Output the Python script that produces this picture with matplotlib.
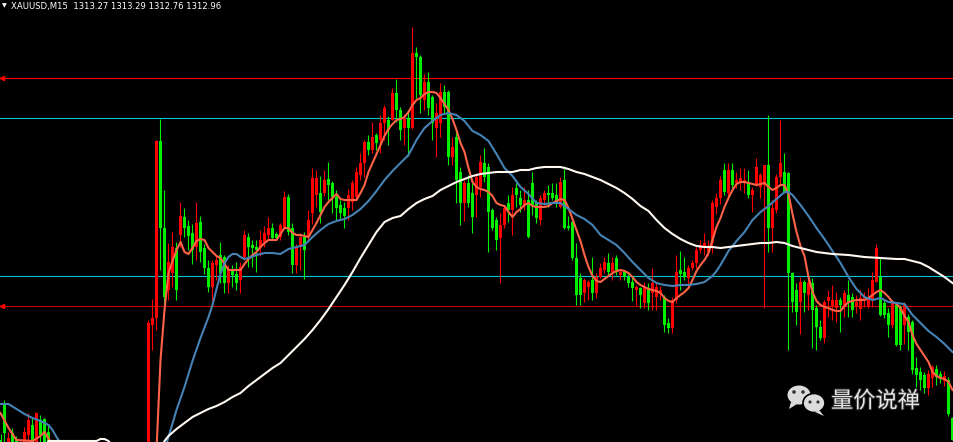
import numpy as np
import matplotlib.pyplot as plt
import matplotlib.patches as mpatches
import matplotlib.patheffects as pe

# XAUUSD M15 candles. bars 0-12 sit at the left edge, bars 13-36 are below the
# visible price range, bars 37-238 form the main part of the chart
left_open  = [1312.0, 1313.75, 1311.6, 1312.35, 1312.0, 1311.5, 1311.6, 1312.25, 1312.75, 1311.7, 1313.0, 1313.05, 1312.4]
left_high  = [1312.3, 1314.0, 1312.4, 1312.6, 1312.2, 1312.0, 1312.65, 1313.35, 1313.1, 1313.4, 1313.25, 1313.1, 1312.75]
left_low   = [1311.0, 1311.6, 1311.3, 1311.2, 1311.0, 1311.2, 1311.4, 1311.8, 1311.5, 1311.5, 1311.9, 1311.5, 1311.5]
left_close = [1311.5, 1312.35, 1312.1, 1311.5, 1311.5, 1311.9, 1312.4, 1313.0, 1311.8, 1313.35, 1312.25, 1311.8, 1311.7]

main_open = [
    1310.5, 1317.75, 1318.1, 1326.95, 1322.6, 1319.5, 1320.35, 1321.6, 1322.25, 1323.15,
    1322.7, 1322.35, 1321.65, 1322.9, 1321.6, 1320.6, 1319.65, 1320.75, 1321.25, 1321.15,
    1319.85, 1320.5, 1320.3, 1320.0, 1321.15, 1322.15, 1321.75, 1321.65, 1321.65, 1321.9,
    1322.25, 1322.6, 1322.3, 1322.15, 1322.65, 1324.15, 1322.6, 1320.75, 1321.65, 1322.15,
    1322.15, 1323.35, 1324.25, 1324.35, 1324.35, 1325.05, 1324.85, 1324.15, 1323.75, 1323.6,
    1323.6, 1323.9, 1324.15, 1325.25, 1325.85, 1326.9, 1326.5, 1327.25, 1327.0, 1327.85,
    1328.0, 1328.0, 1329.35, 1328.5, 1327.6, 1328.1, 1327.6, 1331.35, 1331.15, 1329.0,
    1329.9, 1329.15, 1327.6, 1327.85, 1329.4, 1329.4, 1326.15, 1327.15, 1325.4, 1323.85,
    1324.85, 1324.35, 1324.25, 1324.65, 1325.85, 1325.65, 1323.5, 1323.0, 1322.1, 1322.75,
    1323.85, 1323.5, 1324.6, 1324.1, 1323.75, 1324.0, 1324.85, 1323.85, 1323.0, 1324.0,
    1324.35, 1324.35, 1324.25, 1323.65, 1325.0, 1322.7, 1322.9, 1321.1, 1320.1, 1319.35,
    1319.65, 1320.0, 1319.35, 1320.15, 1320.5, 1320.85, 1320.4, 1321.1, 1320.25, 1320.4,
    1320.15, 1319.9, 1319.5, 1319.6, 1318.85, 1319.6, 1319.35, 1319.15, 1319.3, 1319.15,
    1317.85, 1317.6, 1319.0, 1320.5, 1320.4, 1320.1, 1320.6, 1320.85, 1321.5, 1321.6,
    1321.4, 1321.85, 1323.65, 1324.1, 1325.5, 1324.35, 1325.5, 1324.85, 1324.9, 1324.85,
    1324.9, 1324.25, 1324.75, 1324.65, 1324.75, 1325.75, 1322.6, 1323.5, 1325.15, 1325.4,
    1325.35, 1320.35, 1319.5, 1318.9, 1319.9, 1319.25, 1319.85, 1318.6, 1317.65, 1317.1,
    1318.95, 1318.65, 1318.6, 1319.0, 1318.65, 1319.25, 1319.15, 1318.65, 1318.55, 1318.95,
    1318.7, 1319.0, 1319.9, 1320.15, 1318.85, 1318.35, 1317.75, 1318.75, 1318.65, 1317.75,
    1318.15, 1317.9, 1315.6, 1315.4, 1315.25, 1314.6, 1315.1, 1315.55, 1315.3, 1314.95,
    1315.0, 1313.1]
main_high = [
    1318.0, 1319.05, 1327.0, 1328.05, 1324.5, 1321.85, 1322.4, 1321.9, 1323.9, 1323.6,
    1323.0, 1322.8, 1323.9, 1323.2, 1321.8, 1321.0, 1321.0, 1321.2, 1321.9, 1321.25,
    1320.75, 1320.75, 1320.9, 1320.9, 1322.5, 1322.35, 1322.0, 1322.0, 1322.5, 1322.7,
    1323.15, 1322.85, 1322.4, 1322.85, 1324.45, 1324.3, 1322.85, 1321.8, 1322.35, 1322.4,
    1323.5, 1325.6, 1325.5, 1325.2, 1325.5, 1325.9, 1324.95, 1324.5, 1324.0, 1323.9,
    1324.55, 1325.0, 1325.65, 1326.35, 1327.0, 1327.25, 1327.9, 1327.35, 1328.25, 1328.75,
    1328.2, 1329.6, 1330.05, 1328.65, 1328.3, 1328.5, 1332.65, 1331.65, 1331.25, 1330.3,
    1330.4, 1329.25, 1328.85, 1329.85, 1329.75, 1329.5, 1327.15, 1327.5, 1325.65, 1325.0,
    1325.25, 1324.85, 1325.35, 1326.25, 1326.6, 1325.85, 1323.6, 1323.15, 1323.35, 1323.75,
    1324.25, 1324.65, 1324.85, 1324.5, 1324.65, 1324.5, 1325.4, 1324.0, 1324.25, 1324.5,
    1324.75, 1324.85, 1324.85, 1325.15, 1325.7, 1323.2, 1323.05, 1321.85, 1320.35, 1320.1,
    1320.0, 1321.15, 1320.35, 1320.85, 1321.15, 1321.35, 1321.15, 1321.25, 1320.5, 1320.4,
    1320.4, 1320.15, 1319.75, 1319.65, 1319.9, 1319.85, 1320.6, 1319.9, 1319.7, 1319.25,
    1318.1, 1319.15, 1321.25, 1321.45, 1321.15, 1320.75, 1321.0, 1321.65, 1322.0, 1322.35,
    1322.0, 1324.0, 1324.35, 1325.2, 1325.85, 1325.85, 1325.85, 1325.4, 1325.6, 1325.6,
    1325.5, 1324.65, 1326.1, 1325.35, 1325.75, 1328.25, 1324.0, 1325.3, 1328.0, 1326.35,
    1325.4, 1320.4, 1319.85, 1320.15, 1320.0, 1320.1, 1320.1, 1318.75, 1318.0, 1319.0,
    1319.5, 1319.75, 1319.4, 1319.15, 1319.5, 1320.0, 1319.35, 1319.25, 1319.5, 1319.4,
    1319.6, 1320.4, 1321.8, 1321.1, 1319.0, 1318.6, 1319.0, 1318.85, 1318.75, 1318.9,
    1318.3, 1318.0, 1316.15, 1315.65, 1315.4, 1315.5, 1315.75, 1315.75, 1315.45, 1315.45,
    1315.15, 1313.15]
main_low = [
    1310.3, 1316.5, 1317.5, 1320.5, 1318.4, 1319.0, 1319.65, 1319.0, 1321.65, 1322.15,
    1321.5, 1320.8, 1321.0, 1320.9, 1320.3, 1319.4, 1318.9, 1320.0, 1319.85, 1319.35,
    1319.35, 1319.65, 1319.5, 1319.35, 1321.0, 1320.65, 1320.65, 1320.4, 1321.2, 1321.65,
    1322.0, 1322.0, 1322.0, 1322.0, 1322.6, 1322.25, 1320.35, 1320.35, 1320.5, 1320.05,
    1322.0, 1322.8, 1323.65, 1322.85, 1324.2, 1324.0, 1323.35, 1323.0, 1323.0, 1322.6,
    1323.0, 1323.5, 1324.0, 1325.0, 1325.15, 1326.25, 1326.35, 1326.5, 1326.35, 1327.0,
    1326.75, 1328.0, 1327.9, 1327.0, 1326.75, 1326.2, 1327.55, 1329.1, 1328.35, 1328.5,
    1328.25, 1327.0, 1326.15, 1327.15, 1328.35, 1325.75, 1325.75, 1323.85, 1322.75, 1322.95,
    1323.65, 1322.35, 1323.15, 1324.15, 1324.9, 1321.4, 1322.5, 1321.5, 1319.85, 1322.6,
    1322.9, 1322.25, 1323.65, 1323.4, 1323.5, 1322.1, 1323.25, 1322.85, 1322.75, 1323.75,
    1323.65, 1324.0, 1323.65, 1323.6, 1322.55, 1322.5, 1321.0, 1318.75, 1318.75, 1318.9,
    1319.0, 1319.0, 1319.1, 1320.1, 1320.35, 1320.25, 1320.0, 1320.25, 1320.0, 1320.0,
    1319.65, 1318.95, 1318.75, 1318.6, 1318.6, 1318.5, 1318.5, 1318.5, 1319.0, 1317.4,
    1317.35, 1317.35, 1318.85, 1319.5, 1320.0, 1319.75, 1320.5, 1320.6, 1321.35, 1321.25,
    1321.2, 1321.35, 1323.3, 1323.8, 1324.25, 1324.2, 1324.5, 1324.6, 1324.5, 1324.35,
    1324.1, 1323.4, 1324.7, 1324.1, 1318.6, 1321.4, 1321.4, 1323.35, 1324.75, 1324.35,
    1316.5, 1318.4, 1317.75, 1317.3, 1318.4, 1318.5, 1316.6, 1316.5, 1317.0, 1316.85,
    1318.15, 1318.0, 1317.9, 1317.4, 1318.15, 1318.15, 1318.15, 1318.35, 1318.0, 1318.65,
    1318.6, 1318.65, 1319.9, 1318.2, 1318.1, 1317.15, 1317.6, 1316.7, 1316.5, 1316.8,
    1316.5, 1315.3, 1314.65, 1314.5, 1314.35, 1314.25, 1314.65, 1314.75, 1314.85, 1314.7,
    1313.2, 1312.0]
main_close = [
    1317.85, 1318.1, 1326.95, 1322.6, 1319.15, 1320.9, 1321.65, 1319.5, 1323.2, 1322.6,
    1322.2, 1321.5, 1322.85, 1321.4, 1320.6, 1319.65, 1320.85, 1321.0, 1320.35, 1319.85,
    1320.5, 1320.25, 1319.85, 1320.65, 1322.25, 1321.65, 1321.6, 1321.5, 1322.0, 1322.35,
    1322.6, 1322.1, 1322.1, 1322.75, 1324.15, 1322.4, 1320.75, 1321.65, 1322.15, 1321.5,
    1323.0, 1325.1, 1325.1, 1323.4, 1325.0, 1324.75, 1324.15, 1323.6, 1323.35, 1323.2,
    1324.25, 1324.85, 1325.4, 1325.85, 1326.9, 1326.5, 1327.15, 1326.85, 1327.85, 1328.6,
    1327.5, 1329.35, 1328.5, 1327.5, 1328.1, 1327.6, 1331.35, 1331.15, 1329.25, 1329.9,
    1328.6, 1327.85, 1328.35, 1329.4, 1328.65, 1326.15, 1326.65, 1325.0, 1323.85, 1324.85,
    1323.85, 1323.15, 1325.15, 1325.9, 1325.15, 1323.4, 1322.6, 1322.0, 1322.75, 1323.6,
    1323.5, 1324.25, 1324.25, 1323.75, 1324.0, 1322.15, 1323.75, 1323.1, 1324.1, 1324.35,
    1324.25, 1324.1, 1323.85, 1324.9, 1322.6, 1322.6, 1321.1, 1319.25, 1319.25, 1320.0,
    1319.9, 1319.35, 1320.15, 1320.6, 1320.9, 1320.4, 1320.85, 1320.4, 1320.4, 1320.15,
    1319.85, 1319.6, 1319.65, 1319.25, 1319.65, 1318.85, 1319.85, 1319.65, 1319.5, 1317.75,
    1317.6, 1319.0, 1320.4, 1320.3, 1320.15, 1320.6, 1320.85, 1321.5, 1321.75, 1321.85,
    1321.7, 1323.85, 1324.1, 1325.0, 1324.4, 1325.5, 1324.75, 1325.0, 1325.1, 1325.0,
    1324.25, 1324.5, 1325.65, 1325.25, 1325.75, 1322.6, 1323.6, 1325.15, 1325.85, 1324.4,
    1320.35, 1318.9, 1318.4, 1319.9, 1319.35, 1319.85, 1318.5, 1317.65, 1317.1, 1318.9,
    1319.15, 1319.0, 1319.0, 1318.75, 1319.35, 1318.9, 1318.5, 1318.9, 1319.1, 1319.15,
    1319.0, 1320.0, 1321.6, 1318.25, 1318.25, 1317.75, 1318.85, 1316.75, 1316.75, 1318.75,
    1317.4, 1315.5, 1315.25, 1315.0, 1314.6, 1315.3, 1315.65, 1315.15, 1315.05, 1315.2,
    1313.3, 1312.0]

# moving averages (bar index, price); nan breaks the line where it leaves the view
fast_ma_left_bars = [0, 2, 4, 8, 10, 11, 13]
fast_ma_left = [1313.35, 1312.6, 1312.0, 1311.95, 1312.2, 1312.4, 1311.75]
fast_ma_main = [  # bars 39..238
    1311.5, 1316.0, 1318.5, 1320.35, 1320.95, 1321.5, 1321.9, 1321.4, 1321.3, 1321.6,
    1321.95, 1322.05, 1322.0, 1321.6, 1321.4, 1321.2, 1321.1, 1320.8, 1320.5, 1320.5,
    1320.5, 1320.5, 1320.8, 1321.05, 1321.25, 1321.4, 1321.65, 1321.85, 1322.0, 1322.0,
    1322.0, 1322.3, 1322.6, 1322.6, 1322.35, 1322.25, 1322.25, 1322.2, 1322.15, 1322.5,
    1322.85, 1323.25, 1323.65, 1323.9, 1324.1, 1324.3, 1324.05, 1324.0, 1324.0, 1324.0,
    1324.0, 1324.35, 1324.75, 1325.4, 1325.85, 1326.3, 1326.75, 1327.2, 1327.55, 1327.8,
    1328.0, 1328.05, 1328.15, 1328.4, 1328.75, 1329.0, 1329.1, 1329.3, 1329.4, 1329.4,
    1329.35, 1329.1, 1328.8, 1328.5, 1328.05, 1327.5, 1326.85, 1326.4, 1325.6, 1324.9,
    1324.65, 1324.55, 1324.5, 1324.4, 1324.2, 1323.85, 1323.75, 1323.7, 1323.4, 1323.15,
    1323.4, 1323.55, 1323.75, 1323.85, 1323.7, 1323.65, 1323.65, 1323.65, 1323.7, 1323.85,
    1323.95, 1324.05, 1324.0, 1323.6, 1323.05, 1322.5, 1321.95, 1321.25, 1320.65, 1320.2,
    1319.95, 1319.9, 1320.05, 1320.2, 1320.35, 1320.45, 1320.5, 1320.45, 1320.35, 1320.15,
    1319.9, 1319.75, 1319.65, 1319.55, 1319.5, 1319.45, 1319.35, 1319.1, 1318.95, 1318.9,
    1319.1, 1319.25, 1319.4, 1319.6, 1320.0, 1320.45, 1320.75, 1321.0, 1321.35, 1322.0,
    1322.65, 1323.1, 1323.65, 1324.1, 1324.5, 1324.8, 1324.9, 1324.9, 1324.85, 1324.8,
    1324.75, 1324.8, 1324.85, 1324.65, 1324.5, 1324.6, 1324.75, 1324.75, 1324.3, 1323.3,
    1322.4, 1321.7, 1321.2, 1320.15, 1319.4, 1318.95, 1318.75, 1318.65, 1318.6, 1318.5,
    1318.45, 1318.45, 1318.7, 1318.9, 1318.95, 1319.0, 1319.0, 1319.0, 1319.1, 1319.25,
    1319.4, 1319.5, 1319.35, 1319.15, 1318.9, 1318.8, 1318.6, 1318.2, 1317.9, 1317.25,
    1316.8, 1316.5, 1316.2, 1315.9, 1315.4, 1315.2, 1315.1, 1315.05, 1314.9, 1314.5]

mid_ma_bars = [0, 2, 4, 6, 8, 10, 12, 13, 14, 15, 16, 30,
               41, 42, 44, 46, 48, 50, 52, 53, 54, 55, 56, 57, 58, 59, 60, 61, 62, 64, 66, 68,
               70, 72, 74, 76, 77, 78, 80, 82, 84, 86, 88, 90, 92, 94, 96, 98, 100, 102, 104,
               106, 108, 110, 112, 114, 116, 118, 120, 122, 124, 126, 128, 130, 132, 134, 136,
               138, 140, 142, 144, 146, 148, 150, 152, 154, 156, 158, 160, 162, 164, 166, 168,
               170, 172, 174, 176, 178, 179, 180, 182, 184, 186, 188, 190, 192, 194, 196, 197,
               198, 200, 202, 204, 206, 208, 210, 212, 214, 216, 218, 220, 222, 224, 226, 228,
               230, 232, 234, 236, 238]
mid_ma = [1313.8, 1313.8, 1313.55, 1313.3, 1313.1, 1312.95, 1312.75, 1312.5, 1312.15, 1311.85, 1311.5, np.nan,
          1311.5, 1312.15, 1313.5, 1314.65, 1315.95, 1317.1, 1318.15, 1318.75, 1319.55, 1320.3, 1320.85,
          1321.15, 1321.3, 1321.3, 1321.15, 1321.05, 1321.1, 1321.25, 1321.35, 1321.35,
          1321.3, 1321.55, 1321.65, 1321.75, 1321.95, 1322.15, 1322.5, 1322.8, 1322.95, 1323.05,
          1323.25, 1323.55, 1323.95, 1324.45, 1325.0, 1325.45, 1325.85, 1326.25, 1327.0,
          1327.6, 1327.95, 1328.25, 1328.35, 1328.25, 1327.95, 1327.45, 1327.25, 1326.95, 1326.3,
          1325.6, 1325.2, 1324.65, 1324.3, 1323.85, 1323.8, 1323.85, 1323.85, 1323.55, 1323.25,
          1323.05, 1322.75, 1322.25, 1322.0, 1321.75, 1321.35, 1320.9, 1320.5, 1320.1, 1319.85,
          1319.75, 1319.7, 1319.75, 1319.75, 1319.8, 1319.9, 1320.2, 1320.45, 1320.75, 1321.45,
          1321.95, 1322.4, 1323.0, 1323.4, 1323.7, 1324.05, 1324.4, 1324.4, 1324.25, 1323.75,
          1323.2, 1322.6, 1322.05, 1321.45, 1320.85, 1320.15, 1319.55, 1319.15, 1319.0, 1319.1,
          1318.9, 1318.85, 1318.8, 1318.25, 1317.85, 1317.45, 1317.15, 1316.8, 1316.4]

slow_ma_bars = [11, 12, 14, 16, 18, 20, 22, 24, 25, 26, 27, 28, 34,
                40, 41, 42, 44, 46, 48, 50, 52, 54, 56, 58, 60, 62, 64, 66, 68, 70, 72, 74, 76,
                78, 80, 82, 84, 86, 88, 90, 92, 94, 96, 98, 100, 102, 104, 106, 108, 110, 112,
                114, 116, 118, 120, 122, 124, 126, 128, 130, 132, 134, 136, 138, 140, 142, 144,
                146, 148, 150, 152, 154, 156, 158, 160, 162, 164, 166, 168, 170, 172, 174, 176,
                178, 180, 182, 184, 186, 188, 190, 192, 194, 196, 198, 200, 202, 204, 206, 208,
                212, 216, 220, 224, 226, 228, 230, 232, 234, 236, 238]
slow_ma = [1311.7, 1311.95, 1311.95, 1311.95, 1311.95, 1311.95, 1311.95, 1311.95, 1312.05, 1312.05,
           1311.95, 1311.7, np.nan,
           1311.5, 1311.95, 1312.2, 1312.55, 1312.85, 1313.15, 1313.35, 1313.55, 1313.7, 1313.9,
           1314.15, 1314.35, 1314.7, 1315.0, 1315.3, 1315.6, 1315.85, 1316.25, 1316.65, 1317.05,
           1317.5, 1318.0, 1318.55, 1319.15, 1319.75, 1320.4, 1321.1, 1321.75, 1322.4, 1322.9,
           1323.1, 1323.2, 1323.55, 1323.85, 1324.05, 1324.2, 1324.5, 1324.7, 1324.9, 1325.05,
           1325.2, 1325.3, 1325.35, 1325.4, 1325.4, 1325.4, 1325.5, 1325.5, 1325.6, 1325.65,
           1325.65, 1325.65, 1325.55, 1325.4, 1325.3, 1325.15, 1325.0, 1324.8, 1324.6, 1324.35,
           1324.05, 1323.7, 1323.45, 1323.0, 1322.6, 1322.3, 1322.05, 1321.85, 1321.7, 1321.65,
           1321.65, 1321.6, 1321.65, 1321.7, 1321.75, 1321.8, 1321.85, 1321.85, 1321.9, 1321.85,
           1321.7, 1321.6, 1321.5, 1321.4, 1321.35, 1321.3, 1321.25, 1321.15, 1321.1, 1321.05,
           1321.05, 1320.95, 1320.85, 1320.65, 1320.4, 1320.15, 1319.85]

# horizontal levels
red_levels = [1330.1, 1318.7]
cyan_levels = [1328.1, 1320.2]

header = "XAUUSD,M15  1313.27 1313.29 1312.76 1312.96"
watermark = "量价说禅"

nan = np.nan
opens = np.array(left_open + [nan] * 24 + main_open)
highs = np.array(left_high + [nan] * 24 + main_high)
lows = np.array(left_low + [nan] * 24 + main_low)
closes = np.array(left_close + [nan] * 24 + main_close)
bars = np.arange(len(opens))

W, H = 954, 442
fig = plt.figure(figsize=(W / 100, H / 100), dpi=100, facecolor="black")
ax = fig.add_axes([0, 0, 1, 1])
ax.set_facecolor("black")
ax.set_xlim(-0.125, 238.375)
ax.set_ylim(1311.9, 1334.0)
ax.axis("off")

for lv in cyan_levels:
    ax.axhline(lv, color="#00c8d2", lw=0.8, zorder=1)
ax.axhline(red_levels[0], color="#ff0000", lw=0.8, zorder=1)
ax.axhline(red_levels[1], color="#d00000", lw=0.8, zorder=1)
ax.plot([0.25, 0.25], red_levels, ls="none", marker="<", ms=3, color="#ff0000", zorder=1)

ok = ~np.isnan(opens)
up = closes > opens
cols = np.where(up, "#ff0000", "#00f000")
body_lo = np.minimum(opens, closes)
body_h = np.maximum(np.abs(closes - opens), 0.05)
ax.vlines(bars[ok], lows[ok], highs[ok], colors=cols[ok], lw=0.8, zorder=2)
ax.bar(bars[ok], body_h[ok], bottom=body_lo[ok], width=0.62, color=cols[ok], linewidth=0, zorder=3)

ax.plot(fast_ma_left_bars, fast_ma_left, color="#ff6347", lw=1.5, zorder=4)
ax.plot(range(39, 239), fast_ma_main, color="#ff6347", lw=1.5, zorder=4)
ax.plot(mid_ma_bars, mid_ma, color="#4682b4", lw=1.5, zorder=4)
ax.plot(slow_ma_bars, slow_ma, color="#fff8f0", lw=1.5, zorder=4)

# header line
fig.text(2 / W, 1 - 6 / H, "▼", color="white", fontsize=4.5, va="center", ha="left")
fig.text(11 / W, 1 - 6 / H, header, color="white", fontsize=6.1, va="center", ha="left",
         family="DejaVu Sans")

# WeChat-style watermark (pixel coordinates, origin bottom-left)
grey = "#dcdcdc"
big = mpatches.Ellipse((799, H - 395), 23, 19, fc=grey, ec="none")
big_tail = mpatches.Polygon([(791, H - 402), (789, H - 409), (797, H - 404)], fc=grey, ec="none")
small = mpatches.Ellipse((814, H - 403), 22, 19, fc=grey, ec="black", lw=1.2)
small_tail = mpatches.Polygon([(819, H - 410), (824, H - 416), (815, H - 412)], fc=grey, ec="none")
for p in [big, big_tail, small, small_tail]:
    p.set_transform(None)
    fig.patches.append(p)
for (ex, ey, r) in [(794, 392, 1.8), (803, 392, 1.8), (810, 402, 1.6), (818, 402, 1.6)]:
    eye = mpatches.Circle((ex, H - ey), r, fc="#333333", ec="none")
    eye.set_transform(None)
    fig.patches.append(eye)

fig.text(831 / W, 1 - 401 / H, watermark, color="#e6e6e6", fontsize=16, va="center", ha="left",
         family=["Noto Sans CJK SC", "DejaVu Sans"],
         path_effects=[pe.withStroke(linewidth=1.5, foreground="#2a2a2a")])

fig.savefig("out.png", dpi=100, facecolor="black")
